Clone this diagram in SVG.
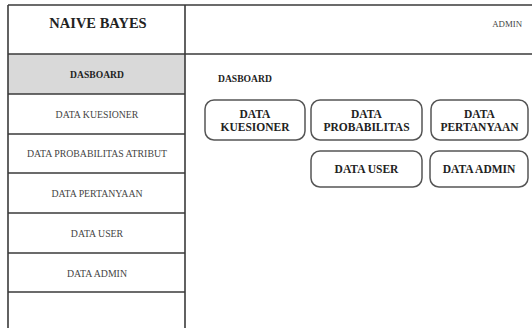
<svg xmlns="http://www.w3.org/2000/svg" width="532" height="328" viewBox="0 0 532 328">
<style>
.ln{stroke:#3a3a3a;stroke-width:1.6;fill:none}
.menu{font-family:"Liberation Serif","Times New Roman",serif;font-size:9.8px;fill:#444;text-anchor:middle}
.btn rect{fill:#fff;stroke:#555;stroke-width:1.5}
.btn text{font-family:"Liberation Serif","Times New Roman",serif;font-size:11.5px;font-weight:bold;fill:#222;text-anchor:middle}
</style>
<rect width="532" height="328" fill="#fff"/>
<g id="sidebar">
<rect x="8" y="54" width="177" height="40" fill="#d9d9d9"/>
<line class="ln" x1="8" y1="5" x2="532" y2="5"/>
<line class="ln" x1="8" y1="54" x2="532" y2="54"/>
<line class="ln" x1="8" y1="5" x2="8" y2="328"/>
<line class="ln" x1="185" y1="5" x2="185" y2="328"/>
<line class="ln" x1="8" y1="94" x2="185" y2="94"/>
<line class="ln" x1="8" y1="134" x2="185" y2="134"/>
<line class="ln" x1="8" y1="173" x2="185" y2="173"/>
<line class="ln" x1="8" y1="213" x2="185" y2="213"/>
<line class="ln" x1="8" y1="253" x2="185" y2="253"/>
<line class="ln" x1="8" y1="292" x2="185" y2="292"/>
<text x="98" y="28" font-family="Liberation Serif,Times New Roman,serif" font-size="14.5" font-weight="bold" fill="#222" text-anchor="middle">NAIVE BAYES</text>
<text x="97" y="77.5" font-family="Liberation Serif,Times New Roman,serif" font-size="9.6" font-weight="bold" fill="#222" text-anchor="middle">DASBOARD</text>
<text class="menu" x="97" y="117.5">DATA KUESIONER</text>
<text class="menu" x="97" y="156.5">DATA PROBABILITAS ATRIBUT</text>
<text class="menu" x="97" y="196.5">DATA PERTANYAAN</text>
<text class="menu" x="97" y="236.5">DATA USER</text>
<text class="menu" x="97" y="276.5">DATA ADMIN</text>
</g>
<g id="header">
<text x="522" y="27" font-family="Liberation Serif,Times New Roman,serif" font-size="8.8" fill="#444" text-anchor="end">ADMIN</text>
</g>
<g id="content">
<text x="218" y="82" font-family="Liberation Serif,Times New Roman,serif" font-size="9.6" font-weight="bold" fill="#222">DASBOARD</text>
</g>
<g id="btn-kuesioner" class="btn">
<rect x="205" y="100" width="100" height="40" rx="9"/>
<text x="255" y="117.5">DATA</text>
<text x="255" y="131">KUESIONER</text>
</g>
<g id="btn-probabilitas" class="btn">
<rect x="311" y="100" width="111" height="40" rx="9"/>
<text x="366.5" y="117.5">DATA</text>
<text x="366.5" y="131">PROBABILITAS</text>
</g>
<g id="btn-pertanyaan" class="btn">
<rect x="431" y="100" width="97" height="40" rx="9"/>
<text x="479.5" y="117.5">DATA</text>
<text x="479.5" y="131">PERTANYAAN</text>
</g>
<g id="btn-user" class="btn">
<rect x="311" y="151" width="111" height="36" rx="9"/>
<text x="366.5" y="173">DATA USER</text>
</g>
<g id="btn-admin" class="btn">
<rect x="430" y="151" width="98" height="36" rx="9"/>
<text x="479" y="173">DATA ADMIN</text>
</g>
</svg>
